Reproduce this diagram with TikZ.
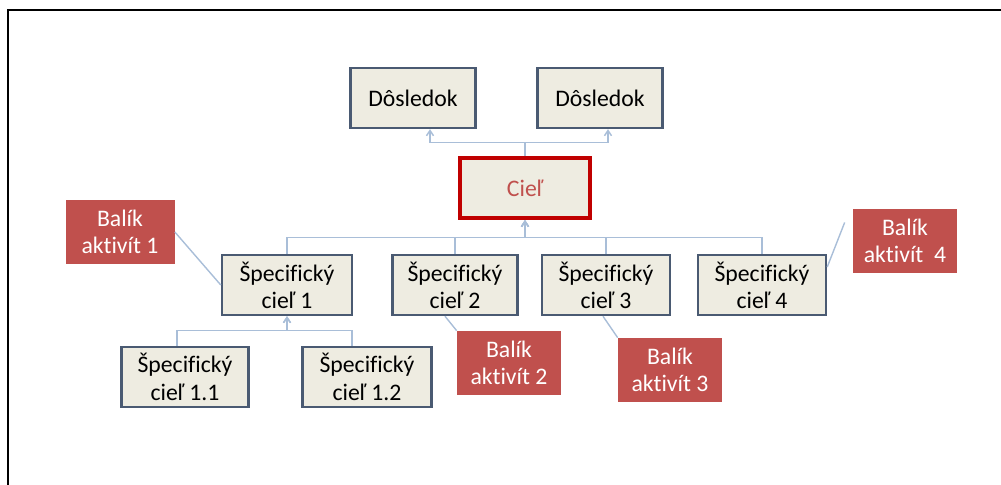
\documentclass[tikz,border=0pt]{standalone}
\usepackage{fontspec}
\setmainfont{Carlito}[Ligatures=NoCommon]
\usepackage{tikz}
\usetikzlibrary{arrows.meta, positioning}
\definecolor{boxfill}{HTML}{EEECE1}
\definecolor{boxline}{HTML}{4A5A72}
\definecolor{pkgred}{HTML}{C0504D}
\definecolor{goalred}{HTML}{C00000}
\definecolor{linkblue}{HTML}{A9BED8}
\tikzset{
    goal/.style={
        rectangle, draw=boxline, line width=1.4pt,
        minimum width=2.5cm, minimum height=1.2cm,
        fill=boxfill, align=center, inner sep=2pt,
        font=\fontsize{13.5}{15.5}\selectfont
    },
    maingoal/.style={
        goal, draw=goalred, line width=2.4pt,
        text=pkgred
    },
    package/.style={
        rectangle, fill=pkgred, text=white,
        minimum width=2.08cm, minimum height=1.28cm,
        align=center, inner sep=2pt,
        font=\fontsize{13.5}{15.5}\selectfont
    },
    link/.style={draw=linkblue, line width=0.8pt, -{Straight Barb[length=3pt,width=4pt]}},
    note/.style={draw=linkblue, line width=0.8pt},
    frame/.style={draw=black, line width=1.2pt}
}

\begin{document}
\begin{tikzpicture}
\useasboundingbox (0,0) rectangle (20.02,-9.70);

% outer frame
\draw[frame] (0.16,-9.70) -- (0.16,-0.20) -- (20.02,-0.20);

% top levels
\node[goal] (dos1) at (8.26,-1.96) {Dôsledok};
\node[goal] (dos2) at (12.00,-1.96) {Dôsledok};
\node[maingoal, minimum width=2.6cm] (ciel) at (10.50,-3.76) {Cieľ};

% specific goals
\node[goal, minimum width=2.6cm] (sc1) at (5.74,-5.70) {Špecifický\\cieľ 1};
\node[goal, minimum width=2.5cm] (sc2) at (9.10,-5.70) {Špecifický\\cieľ 2};
\node[goal, minimum width=2.56cm] (sc3) at (12.12,-5.70) {Špecifický\\cieľ 3};
\node[goal, minimum width=2.56cm] (sc4) at (15.24,-5.70) {Špecifický\\cieľ 4};
\node[goal, minimum width=2.54cm] (sc11) at (3.70,-7.54) {Špecifický\\cieľ 1.1};
\node[goal, minimum width=2.58cm] (sc12) at (7.34,-7.54) {Špecifický\\cieľ 1.2};

% activity packages
\node[package, minimum width=2.18cm] (bal1) at (2.40,-4.64) {Balík\\aktivít 1};
\node[package] (bal2) at (10.18,-7.26) {Balík\\aktivít 2};
\node[package] (bal3) at (13.40,-7.40) {Balík\\aktivít 3};
\node[package] (bal4) at (18.10,-4.81) {Balík\\aktivít \ 4};

% tree connectors
\draw[link] (ciel.north) -- ++(0,0.27) -| ([xshift=0.34cm]dos1.south);
\draw[link] (ciel.north) -- ++(0,0.27) -| ([xshift=0.16cm]dos2.south);
\draw[link] (sc1.north) -- ++(0,0.33) -| (ciel.south);
\draw[link] (sc2.north) -- ++(0,0.33) -| (ciel.south);
\draw[link] (sc3.north) -- ++(0,0.33) -| (ciel.south);
\draw[link] (sc4.north) -- ++(0,0.33) -| (ciel.south);
\draw[link] ([xshift=-0.16cm]sc11.north) -- ++(0,0.30) -| (sc1.south);
\draw[link] ([xshift=-0.30cm]sc12.north) -- ++(0,0.30) -| (sc1.south);

% package callouts
\draw[note] (bal1.east) -- (sc1.west);
\draw[note] ([xshift=-0.2cm]sc2.south) -- (bal2.north west);
\draw[note] ([xshift=-0.06cm]sc3.south) -- (bal3.north west);
\draw[note] ([yshift=0.36cm]sc4.east) -- ([xshift=-0.16cm,yshift=0.36cm]bal4.west);

\end{tikzpicture}
\end{document}
